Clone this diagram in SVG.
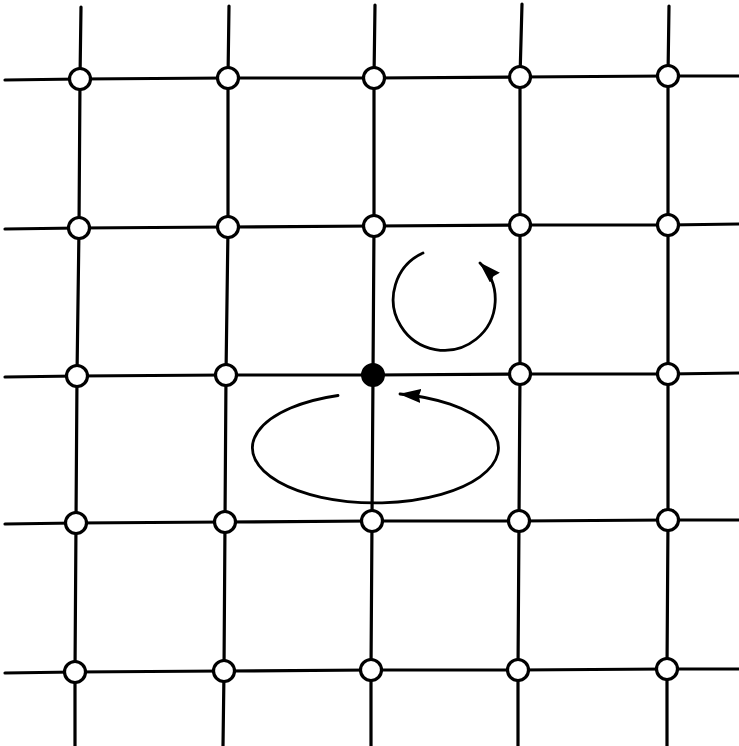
<svg xmlns="http://www.w3.org/2000/svg" width="739" height="746" viewBox="0 0 739 746">
<style>
.ln{fill:none;stroke:#000;stroke-width:3.2;stroke-linecap:round;stroke-linejoin:round}
.lp{fill:none;stroke:#000;stroke-width:2.8;stroke-linecap:round}
.nd{fill:#fff;stroke:#000;stroke-width:3.2}
.nb{fill:#000;stroke:#000;stroke-width:2}
</style>
<defs>
<marker id="ah" markerUnits="userSpaceOnUse" viewBox="0 0 22 14" markerWidth="22" markerHeight="14" refX="21" refY="7" orient="auto">
<path d="M0,0 L22,7 L0,14 L2,7 z" fill="#000"/>
</marker>
</defs>
<rect width="739" height="746" fill="#fff"/>
<g id="connectors">
<polyline class="ln" points="5,80 80,79 228,78 374,78 520,77 668,76 739,76"/>
<polyline class="ln" points="5,229 79,228 228,227 374,226 520,225 668,225 739,224"/>
<polyline class="ln" points="5,377 77,376 226,375 373,375 520,374 668,374 739,373"/>
<polyline class="ln" points="5,524 76,523 225,522 372,521 519,521 668,520 739,520"/>
<polyline class="ln" points="5,673 75,672 224,671 371,670 518,670 667,669 739,669"/>
<polyline class="ln" points="81,7 80,79 79,228 77,376 76,523 75,672 75,746"/>
<polyline class="ln" points="229,6 228,78 228,227 226,375 225,522 224,671 223,746"/>
<polyline class="ln" points="375,5 374,78 374,226 373,375 372,521 371,670 371,746"/>
<polyline class="ln" points="522,4 520,77 520,225 520,374 519,521 518,670 518,746"/>
<polyline class="ln" points="669,6 668,76 668,225 668,374 668,520 667,669 667,746"/>
<path class="lp" d="M423,253 A51,51 0 1 0 480,263" marker-end="url(#ah)"/>
<path class="lp" d="M338,395.5 A123,55 0 1 0 400,394" marker-end="url(#ah)"/>
</g>
<g id="n11"><circle class="nd" cx="80" cy="79" r="10.5"/></g>
<g id="n12"><circle class="nd" cx="228" cy="78" r="10.5"/></g>
<g id="n13"><circle class="nd" cx="374" cy="78" r="10.5"/></g>
<g id="n14"><circle class="nd" cx="520" cy="77" r="10.5"/></g>
<g id="n15"><circle class="nd" cx="668" cy="76" r="10.5"/></g>
<g id="n21"><circle class="nd" cx="79" cy="228" r="10.5"/></g>
<g id="n22"><circle class="nd" cx="228" cy="227" r="10.5"/></g>
<g id="n23"><circle class="nd" cx="374" cy="226" r="10.5"/></g>
<g id="n24"><circle class="nd" cx="520" cy="225" r="10.5"/></g>
<g id="n25"><circle class="nd" cx="668" cy="225" r="10.5"/></g>
<g id="n31"><circle class="nd" cx="77" cy="376" r="10.5"/></g>
<g id="n32"><circle class="nd" cx="226" cy="375" r="10.5"/></g>
<g id="n33"><circle class="nb" cx="373" cy="375" r="11"/></g>
<g id="n34"><circle class="nd" cx="520" cy="374" r="10.5"/></g>
<g id="n35"><circle class="nd" cx="668" cy="374" r="10.5"/></g>
<g id="n41"><circle class="nd" cx="76" cy="523" r="10.5"/></g>
<g id="n42"><circle class="nd" cx="225" cy="522" r="10.5"/></g>
<g id="n43"><circle class="nd" cx="372" cy="521" r="10.5"/></g>
<g id="n44"><circle class="nd" cx="519" cy="521" r="10.5"/></g>
<g id="n45"><circle class="nd" cx="668" cy="520" r="10.5"/></g>
<g id="n51"><circle class="nd" cx="75" cy="672" r="10.5"/></g>
<g id="n52"><circle class="nd" cx="224" cy="671" r="10.5"/></g>
<g id="n53"><circle class="nd" cx="371" cy="670" r="10.5"/></g>
<g id="n54"><circle class="nd" cx="518" cy="670" r="10.5"/></g>
<g id="n55"><circle class="nd" cx="667" cy="669" r="10.5"/></g>
</svg>
